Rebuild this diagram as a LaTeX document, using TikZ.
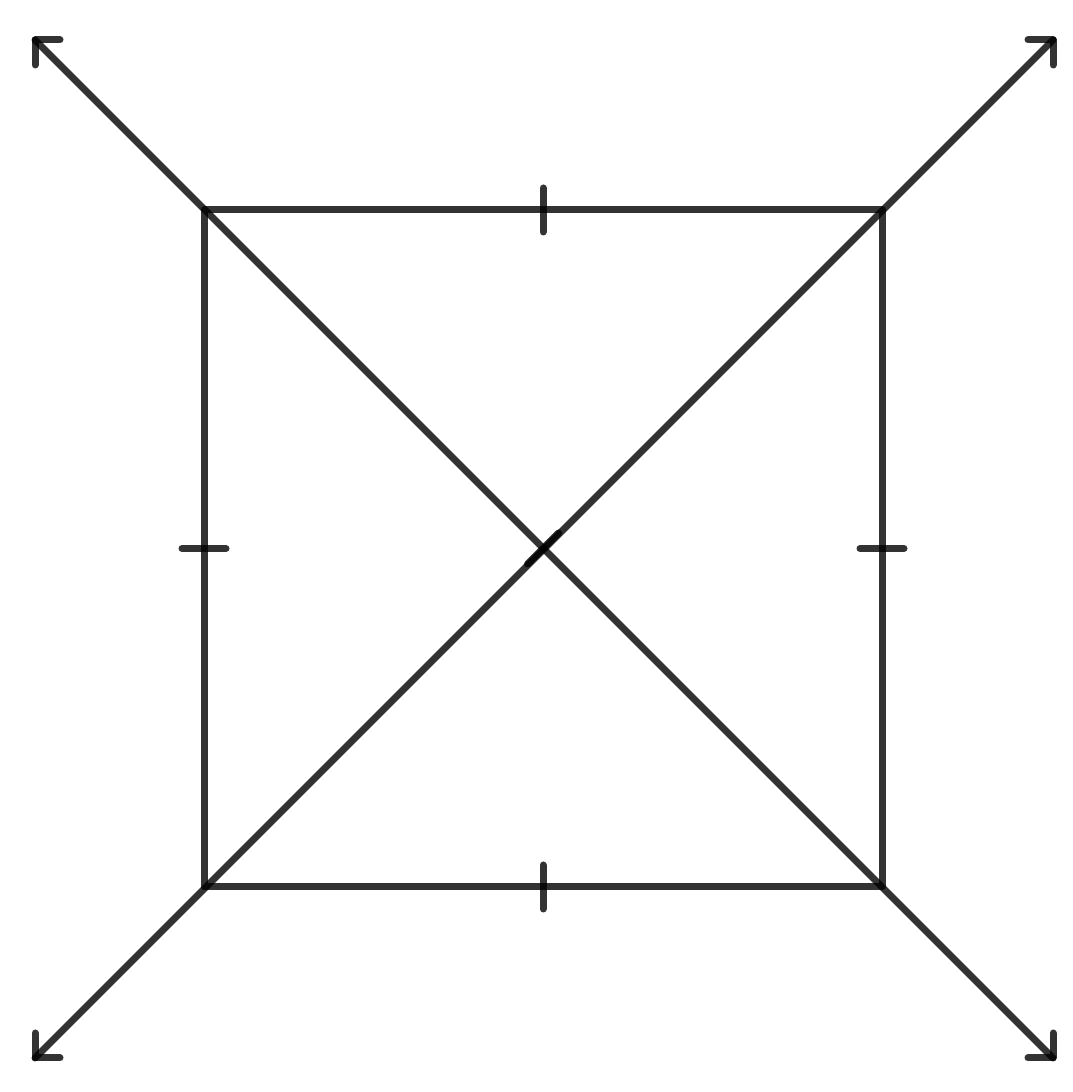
\documentclass[tikz,border=0pt]{standalone}
\usetikzlibrary{calc}
\begin{document}
\begin{tikzpicture}[x=1pt,y=1pt,
  ln/.style={draw=black,draw opacity=0.8,line width=7pt,line cap=round,line join=round},
  tick/.style={ln}]
\useasboundingbox (0,0) rectangle (1073,1092);
\coordinate (A) at (204,882);
\coordinate (B) at (882,882);
\coordinate (C) at (882,205);
\coordinate (D) at (204,205);
\coordinate (O) at (543,543.5);
\coordinate (TL) at (35,1052);
\coordinate (TR) at (1053,1052);
\coordinate (BL) at (35,34);
\coordinate (BR) at (1053,34);
% square
\draw[ln] (A) -- (B) -- (C) -- (D) -- cycle;
% diagonals
\draw[ln] (TL) -- (BR);
\draw[ln] (BL) -- (TR);
% arrow heads
\draw[ln] ([shift={(25,0)}]TL) -- (TL) -- ([shift={(0,-25)}]TL);
\draw[ln] ([shift={(-25,0)}]TR) -- (TR) -- ([shift={(0,-25)}]TR);
\draw[ln] ([shift={(25,0)}]BL) -- (BL) -- ([shift={(0,25)}]BL);
\draw[ln] ([shift={(-25,0)}]BR) -- (BR) -- ([shift={(0,25)}]BR);
% ticks
\draw[tick] ($(A)!0.5!(B)+(0,22)$) -- ($(A)!0.5!(B)+(0,-22)$);
\draw[tick] ($(D)!0.5!(C)+(0,22)$) -- ($(D)!0.5!(C)+(0,-22)$);
\draw[tick] ($(A)!0.5!(D)+(-22,0)$) -- ($(A)!0.5!(D)+(22,0)$);
\draw[tick] ($(B)!0.5!(C)+(-22,0)$) -- ($(B)!0.5!(C)+(22,0)$);
\draw[tick] ($(O)+(-15.5,-15.5)$) -- ($(O)+(15.5,15.5)$);
\end{tikzpicture}
\end{document}
